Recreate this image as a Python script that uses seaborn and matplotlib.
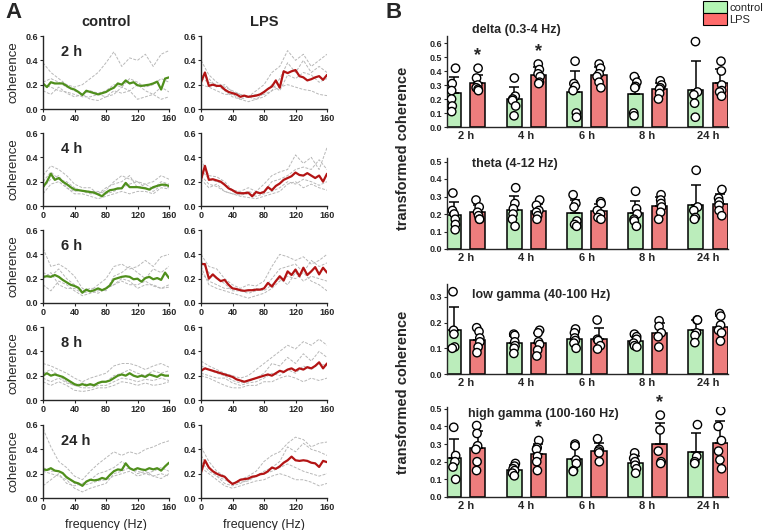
import numpy as np
import pandas as pd
import matplotlib
matplotlib.use("Agg")
import matplotlib.pyplot as plt
import seaborn as sns
from matplotlib.patches import Patch

# ---------------- Panel A: coherence spectra ----------------
freq_mean = np.arange(0, 161, 5)
freq_trace = np.arange(0, 161, 10)
hours = ["2 h", "4 h", "6 h", "8 h", "24 h"]

ctrl_mean_2h = [0.21, 0.18, 0.22, 0.21, 0.21, 0.21, 0.19, 0.17, 0.16, 0.14, 0.115, 0.15, 0.14, 0.13, 0.12, 0.13, 0.14,
                0.16, 0.175, 0.21, 0.20, 0.235, 0.21, 0.22, 0.195, 0.19, 0.195, 0.20, 0.21, 0.225, 0.16, 0.25, 0.26]
ctrl_mean_4h = [0.155, 0.20, 0.265, 0.215, 0.23, 0.20, 0.18, 0.155, 0.135, 0.13, 0.125, 0.12, 0.115, 0.11, 0.095, 0.08,
                0.11, 0.13, 0.135, 0.145, 0.145, 0.19, 0.155, 0.155, 0.155, 0.15, 0.145, 0.135, 0.155, 0.165, 0.175,
                0.175, 0.165]
ctrl_mean_6h = [0.215, 0.22, 0.215, 0.23, 0.215, 0.19, 0.17, 0.15, 0.14, 0.125, 0.085, 0.11, 0.095, 0.105, 0.12, 0.105,
                0.12, 0.145, 0.195, 0.205, 0.215, 0.22, 0.215, 0.195, 0.20, 0.175, 0.205, 0.215, 0.195, 0.205, 0.19,
                0.25, 0.205]
ctrl_mean_8h = [0.20, 0.22, 0.20, 0.21, 0.20, 0.19, 0.17, 0.15, 0.13, 0.12, 0.13, 0.12, 0.13, 0.12, 0.14, 0.15, 0.15,
                0.16, 0.18, 0.20, 0.21, 0.20, 0.22, 0.20, 0.19, 0.20, 0.19, 0.21, 0.20, 0.19, 0.21, 0.20, 0.20]
ctrl_mean_24h = [0.235, 0.23, 0.245, 0.225, 0.22, 0.205, 0.17, 0.15, 0.13, 0.12, 0.10, 0.135, 0.15, 0.145, 0.15, 0.165,
                 0.155, 0.19, 0.22, 0.235, 0.23, 0.285, 0.245, 0.23, 0.245, 0.235, 0.23, 0.245, 0.235, 0.245, 0.225,
                 0.26, 0.29]

lps_mean_2h = [0.22, 0.30, 0.19, 0.20, 0.19, 0.19, 0.16, 0.14, 0.13, 0.12, 0.10, 0.11, 0.10, 0.105, 0.11, 0.12, 0.14,
               0.165, 0.185, 0.235, 0.175, 0.31, 0.295, 0.31, 0.32, 0.27, 0.26, 0.235, 0.245, 0.26, 0.27, 0.24, 0.28]
lps_mean_4h = [0.215, 0.33, 0.215, 0.22, 0.21, 0.20, 0.175, 0.145, 0.13, 0.11, 0.105, 0.105, 0.11, 0.08, 0.115, 0.105,
               0.115, 0.155, 0.13, 0.165, 0.185, 0.215, 0.23, 0.245, 0.275, 0.255, 0.25, 0.27, 0.25, 0.23, 0.25, 0.20,
               0.265]
lps_mean_6h = [0.32, 0.32, 0.20, 0.235, 0.205, 0.18, 0.19, 0.15, 0.12, 0.115, 0.105, 0.10, 0.105, 0.105, 0.11, 0.11,
               0.12, 0.165, 0.135, 0.18, 0.22, 0.185, 0.26, 0.23, 0.275, 0.22, 0.29, 0.23, 0.26, 0.295, 0.235, 0.29,
               0.25]
lps_mean_8h = [0.24, 0.26, 0.25, 0.24, 0.23, 0.22, 0.21, 0.20, 0.19, 0.17, 0.16, 0.15, 0.16, 0.17, 0.18, 0.19, 0.20,
               0.21, 0.20, 0.22, 0.24, 0.23, 0.25, 0.26, 0.24, 0.26, 0.25, 0.27, 0.26, 0.28, 0.31, 0.26, 0.30]
lps_mean_24h = [0.21, 0.31, 0.25, 0.22, 0.20, 0.185, 0.175, 0.14, 0.115, 0.13, 0.15, 0.155, 0.16, 0.175, 0.18, 0.195,
                0.20, 0.22, 0.25, 0.24, 0.26, 0.29, 0.31, 0.34, 0.31, 0.305, 0.31, 0.305, 0.29, 0.285, 0.255, 0.305,
                0.295]

# individual animals (grey traces), sampled every 10 Hz
ctrl_traces_2h = [
    [0.38, 0.30, 0.25, 0.20, 0.18, 0.20, 0.25, 0.30, 0.38, 0.47, 0.35, 0.42, 0.40, 0.45, 0.35, 0.45, 0.48],
    [0.15, 0.12, 0.18, 0.13, 0.10, 0.12, 0.08, 0.07, 0.10, 0.15, 0.13, 0.15, 0.08, 0.10, 0.12, 0.08, 0.10],
    [0.22, 0.25, 0.22, 0.18, 0.15, 0.12, 0.15, 0.13, 0.15, 0.20, 0.18, 0.25, 0.22, 0.18, 0.20, 0.25, 0.22],
    [0.20, 0.18, 0.15, 0.14, 0.12, 0.10, 0.10, 0.12, 0.10, 0.12, 0.18, 0.15, 0.20, 0.15, 0.12, 0.18, 0.14]]
ctrl_traces_4h = [
    [0.25, 0.33, 0.30, 0.25, 0.18, 0.15, 0.15, 0.10, 0.13, 0.20, 0.25, 0.22, 0.20, 0.18, 0.20, 0.25, 0.22],
    [0.10, 0.18, 0.20, 0.15, 0.10, 0.10, 0.08, 0.06, 0.08, 0.10, 0.12, 0.10, 0.12, 0.12, 0.10, 0.15, 0.14],
    [0.20, 0.28, 0.22, 0.20, 0.15, 0.12, 0.10, 0.10, 0.15, 0.18, 0.20, 0.25, 0.15, 0.18, 0.14, 0.20, 0.18],
    [0.15, 0.22, 0.25, 0.15, 0.12, 0.13, 0.12, 0.12, 0.10, 0.12, 0.15, 0.18, 0.20, 0.15, 0.12, 0.17, 0.15]]
ctrl_traces_6h = [
    [0.45, 0.30, 0.32, 0.28, 0.22, 0.12, 0.10, 0.15, 0.20, 0.30, 0.32, 0.28, 0.30, 0.35, 0.30, 0.38, 0.40],
    [0.15, 0.10, 0.18, 0.15, 0.10, 0.06, 0.08, 0.10, 0.12, 0.15, 0.18, 0.15, 0.15, 0.18, 0.14, 0.12, 0.13],
    [0.25, 0.22, 0.28, 0.20, 0.15, 0.10, 0.12, 0.12, 0.10, 0.22, 0.25, 0.30, 0.25, 0.20, 0.28, 0.25, 0.30],
    [0.20, 0.25, 0.15, 0.12, 0.12, 0.08, 0.10, 0.08, 0.12, 0.15, 0.20, 0.18, 0.12, 0.15, 0.15, 0.12, 0.15]]
ctrl_traces_8h = [
    [0.30, 0.28, 0.25, 0.22, 0.18, 0.15, 0.18, 0.20, 0.22, 0.28, 0.30, 0.30, 0.28, 0.25, 0.28, 0.30, 0.27],
    [0.15, 0.12, 0.15, 0.12, 0.08, 0.07, 0.08, 0.10, 0.10, 0.12, 0.15, 0.14, 0.12, 0.14, 0.12, 0.13, 0.15],
    [0.22, 0.25, 0.20, 0.15, 0.12, 0.14, 0.12, 0.14, 0.15, 0.20, 0.22, 0.25, 0.22, 0.20, 0.24, 0.22, 0.24],
    [0.18, 0.15, 0.18, 0.14, 0.12, 0.10, 0.10, 0.12, 0.12, 0.15, 0.18, 0.17, 0.15, 0.17, 0.16, 0.18, 0.16]]
ctrl_traces_24h = [
    [0.57, 0.42, 0.30, 0.25, 0.18, 0.15, 0.22, 0.28, 0.33, 0.38, 0.35, 0.38, 0.36, 0.40, 0.42, 0.45, 0.47],
    [0.22, 0.20, 0.18, 0.15, 0.08, 0.05, 0.08, 0.10, 0.12, 0.20, 0.22, 0.25, 0.20, 0.22, 0.18, 0.20, 0.18],
    [0.10, 0.15, 0.20, 0.12, 0.10, 0.12, 0.15, 0.20, 0.22, 0.25, 0.30, 0.25, 0.22, 0.20, 0.22, 0.25, 0.22],
    [0.25, 0.22, 0.22, 0.18, 0.12, 0.10, 0.12, 0.14, 0.15, 0.18, 0.20, 0.22, 0.18, 0.20, 0.18, 0.16, 0.20]]

lps_traces_2h = [
    [0.40, 0.28, 0.22, 0.18, 0.15, 0.12, 0.10, 0.15, 0.20, 0.30, 0.35, 0.48, 0.40, 0.45, 0.35, 0.40, 0.45],
    [0.25, 0.22, 0.20, 0.15, 0.10, 0.08, 0.06, 0.08, 0.10, 0.15, 0.25, 0.38, 0.30, 0.40, 0.30, 0.35, 0.30],
    [0.20, 0.18, 0.15, 0.12, 0.12, 0.08, 0.10, 0.12, 0.12, 0.15, 0.18, 0.20, 0.18, 0.16, 0.15, 0.12, 0.11],
    [0.28, 0.25, 0.18, 0.20, 0.14, 0.12, 0.10, 0.08, 0.13, 0.20, 0.15, 0.28, 0.25, 0.30, 0.28, 0.22, 0.25]]
lps_traces_4h = [
    [0.38, 0.25, 0.24, 0.20, 0.13, 0.12, 0.15, 0.12, 0.18, 0.25, 0.28, 0.30, 0.42, 0.35, 0.40, 0.30, 0.48],
    [0.25, 0.18, 0.16, 0.12, 0.10, 0.08, 0.07, 0.06, 0.08, 0.10, 0.12, 0.18, 0.20, 0.15, 0.18, 0.15, 0.13],
    [0.30, 0.22, 0.20, 0.18, 0.12, 0.10, 0.12, 0.10, 0.12, 0.20, 0.22, 0.25, 0.30, 0.32, 0.30, 0.38, 0.30],
    [0.22, 0.15, 0.18, 0.12, 0.10, 0.09, 0.10, 0.08, 0.10, 0.12, 0.15, 0.20, 0.18, 0.22, 0.20, 0.17, 0.20]]
lps_traces_6h = [
    [0.40, 0.30, 0.28, 0.20, 0.15, 0.12, 0.15, 0.14, 0.18, 0.30, 0.40, 0.38, 0.35, 0.38, 0.32, 0.35, 0.40],
    [0.30, 0.15, 0.12, 0.10, 0.08, 0.06, 0.04, 0.06, 0.08, 0.12, 0.18, 0.22, 0.20, 0.25, 0.18, 0.15, 0.10],
    [0.35, 0.25, 0.20, 0.16, 0.10, 0.10, 0.08, 0.10, 0.12, 0.20, 0.28, 0.30, 0.32, 0.25, 0.35, 0.30, 0.33],
    [0.25, 0.18, 0.15, 0.12, 0.12, 0.10, 0.10, 0.12, 0.10, 0.15, 0.20, 0.15, 0.25, 0.18, 0.22, 0.20, 0.18]]
lps_traces_8h = [
    [0.32, 0.28, 0.25, 0.22, 0.20, 0.18, 0.20, 0.25, 0.30, 0.35, 0.40, 0.45, 0.42, 0.48, 0.45, 0.50, 0.45],
    [0.20, 0.18, 0.15, 0.12, 0.10, 0.10, 0.12, 0.12, 0.15, 0.15, 0.18, 0.20, 0.18, 0.15, 0.18, 0.16, 0.18],
    [0.28, 0.25, 0.22, 0.20, 0.16, 0.14, 0.15, 0.18, 0.22, 0.30, 0.28, 0.35, 0.30, 0.38, 0.32, 0.40, 0.35],
    [0.22, 0.20, 0.18, 0.18, 0.14, 0.12, 0.14, 0.15, 0.18, 0.22, 0.20, 0.25, 0.22, 0.28, 0.25, 0.30, 0.28]]
lps_traces_24h = [
    [0.42, 0.30, 0.22, 0.18, 0.12, 0.15, 0.18, 0.22, 0.30, 0.35, 0.38, 0.45, 0.50, 0.48, 0.42, 0.45, 0.46],
    [0.35, 0.25, 0.18, 0.12, 0.10, 0.12, 0.15, 0.18, 0.22, 0.25, 0.30, 0.42, 0.38, 0.45, 0.40, 0.38, 0.35],
    [0.25, 0.20, 0.15, 0.10, 0.08, 0.10, 0.12, 0.14, 0.15, 0.18, 0.20, 0.18, 0.15, 0.15, 0.13, 0.10, 0.12],
    [0.30, 0.22, 0.18, 0.15, 0.12, 0.13, 0.14, 0.18, 0.20, 0.22, 0.25, 0.28, 0.25, 0.22, 0.20, 0.18, 0.20]]

# ---------------- Panel B: band-wise transformed coherence ----------------
groups = ["control", "LPS"]
bands = ["delta (0.3-4 Hz)", "theta (4-12 Hz)", "low gamma (40-100 Hz)", "high gamma (100-160 Hz)"]

delta_ctrl = [[0.42, 0.31, 0.26, 0.20, 0.15, 0.11], [0.35, 0.22, 0.20, 0.19, 0.15, 0.08],
              [0.47, 0.31, 0.29, 0.26, 0.10, 0.07], [0.36, 0.32, 0.29, 0.28, 0.10, 0.08],
              [0.61, 0.25, 0.23, 0.17, 0.07]]
delta_lps = [[0.42, 0.35, 0.30, 0.28, 0.27, 0.26], [0.45, 0.41, 0.38, 0.36, 0.32, 0.31],
             [0.45, 0.42, 0.38, 0.36, 0.32, 0.28], [0.33, 0.30, 0.28, 0.27, 0.24, 0.20],
             [0.47, 0.40, 0.30, 0.26, 0.25, 0.22]]
theta_ctrl = [[0.32, 0.22, 0.20, 0.17, 0.14, 0.11], [0.35, 0.26, 0.23, 0.20, 0.17, 0.13],
              [0.31, 0.26, 0.24, 0.16, 0.14, 0.13], [0.33, 0.23, 0.20, 0.17, 0.16, 0.13],
              [0.45, 0.24, 0.22, 0.18, 0.17]]
theta_lps = [[0.28, 0.24, 0.21, 0.19, 0.17, 0.17], [0.28, 0.25, 0.22, 0.21, 0.19, 0.17],
             [0.27, 0.26, 0.22, 0.20, 0.18, 0.17], [0.31, 0.28, 0.26, 0.24, 0.21, 0.17],
             [0.34, 0.29, 0.27, 0.25, 0.22, 0.19]]
lowg_ctrl = [[0.32, 0.17, 0.155, 0.105, 0.10], [0.155, 0.15, 0.125, 0.11, 0.10, 0.08],
             [0.175, 0.16, 0.14, 0.13, 0.12, 0.10], [0.155, 0.145, 0.135, 0.12, 0.11, 0.105],
             [0.21, 0.21, 0.16, 0.15, 0.122]]
lowg_lps = [[0.18, 0.165, 0.14, 0.125, 0.105, 0.083], [0.17, 0.16, 0.125, 0.115, 0.093, 0.07],
            [0.21, 0.135, 0.13, 0.11, 0.097], [0.207, 0.185, 0.16, 0.145, 0.105],
            [0.235, 0.225, 0.19, 0.17, 0.16, 0.128]]
highg_ctrl = [[0.395, 0.235, 0.20, 0.17, 0.10], [0.19, 0.175, 0.16, 0.15, 0.135, 0.12],
              [0.30, 0.29, 0.21, 0.19, 0.15, 0.145], [0.25, 0.22, 0.20, 0.18, 0.16, 0.135],
              [0.41, 0.23, 0.20, 0.19]]
highg_lps = [[0.405, 0.36, 0.29, 0.27, 0.20, 0.15], [0.32, 0.28, 0.27, 0.23, 0.20, 0.15],
             [0.33, 0.27, 0.26, 0.25, 0.20], [0.464, 0.38, 0.26, 0.20, 0.19],
             [0.49, 0.40, 0.32, 0.26, 0.21, 0.16]]

# significant LPS vs control (band index, hour)
stars = [(0, "2 h"), (0, "4 h"), (3, "4 h"), (3, "8 h")]

ctrl_color = "#b3f5b3"
lps_color = "#ff6b6b"
ctrl_line = "#4f8f1c"
lps_line = "#b31414"

sns.set_style("ticks")
plt.rcParams["font.family"] = ["Liberation Sans", "DejaVu Sans"]
plt.rcParams["axes.linewidth"] = 1.0

W, H = 764, 530
fig = plt.figure(figsize=(W / 100, H / 100), dpi=100)


def px_axes(left, top, width, height):
  return fig.add_axes([left / W, 1 - (top + height) / H, width / W, height / H])


# ---- Panel A ----
ctrl_means = [ctrl_mean_2h, ctrl_mean_4h, ctrl_mean_6h, ctrl_mean_8h, ctrl_mean_24h]
lps_means = [lps_mean_2h, lps_mean_4h, lps_mean_6h, lps_mean_8h, lps_mean_24h]
ctrl_traces = [ctrl_traces_2h, ctrl_traces_4h, ctrl_traces_6h, ctrl_traces_8h, ctrl_traces_24h]
lps_traces = [lps_traces_2h, lps_traces_4h, lps_traces_6h, lps_traces_8h, lps_traces_24h]
row_tops = [36, 133, 230, 327, 425]

for i, hour in enumerate(hours):
  for col, (means, traces, lc, left) in enumerate([(ctrl_means, ctrl_traces, ctrl_line, 43),
                                                    (lps_means, lps_traces, lps_line, 201)]):
    ax = px_axes(left, row_tops[i], 126, 73)
    for tr in traces[i]:
      sns.lineplot(x=freq_trace, y=tr, ax=ax, color="#b8b8b8", lw=0.7,
                   linestyle=(0, (3, 1.5)))
    sns.lineplot(x=freq_mean, y=means[i], ax=ax, color=lc, lw=1.6)
    ax.set_xlim(0, 160)
    ax.set_ylim(0, 0.6)
    ax.set_xticks([0, 40, 80, 120, 160])
    ax.set_yticks([0.0, 0.2, 0.4, 0.6])
    ax.set_yticklabels(["0.0", "0.2", "0.4", "0.6"])
    ax.tick_params(labelsize=6.5, length=2.5, width=0.8, pad=1)
    for lab in ax.get_xticklabels() + ax.get_yticklabels():
      lab.set_fontweight("bold")
    sns.despine(ax=ax)
    if col == 0:
      ax.set_ylabel("coherence", fontsize=9.5, labelpad=4)
      ax.text(0.14, 0.78, hour, transform=ax.transAxes, fontsize=10.5,
              fontweight="bold", va="center")
    if i == 0:
      ax.set_title(["control", "LPS"][col], fontsize=10.5, fontweight="bold", pad=7)
    if i == len(hours) - 1:
      ax.set_xlabel("frequency (Hz)", fontsize=9, labelpad=5)

# ---- Panel B ----
band_ctrl = [delta_ctrl, theta_ctrl, lowg_ctrl, highg_ctrl]
band_lps = [delta_lps, theta_lps, lowg_lps, highg_lps]
band_tops = [36, 158, 284, 407]
band_heights = [91, 91, 90, 90]
band_ylim = [0.65, 0.52, 0.35, 0.51]
band_ticks = [np.arange(0, 0.61, 0.1), np.arange(0, 0.51, 0.1), np.arange(0, 0.31, 0.1), np.arange(0, 0.51, 0.1)]
title_y = [1.07, 0.93, 0.88, 0.92]
title_x = [0.09, 0.09, 0.09, 0.075]
palette = {"control": ctrl_color, "LPS": lps_color}

for b in range(4):
  rows = []
  for h, hour in enumerate(hours):
    for v in band_ctrl[b][h]:
      rows.append((hour, "control", v))
    for v in band_lps[b][h]:
      rows.append((hour, "LPS", v))
  df = pd.DataFrame(rows, columns=["time", "group", "value"])

  ax = px_axes(447, band_tops[b], 281, band_heights[b])
  sns.barplot(data=df, x="time", y="value", hue="group", order=hours, hue_order=groups,
              palette=palette, errorbar=None, width=0.8, gap=0.375, edgecolor="black",
              linewidth=1.1, legend=False, ax=ax, zorder=2)

  stats = df.groupby(["time", "group"])["value"].agg(["mean", "std", "max"])
  for g, off in zip(groups, [-0.2, 0.2]):
    xs = np.arange(len(hours)) + off
    m = stats.xs(g, level="group").loc[hours]
    ax.errorbar(xs, m["mean"], yerr=[np.zeros(len(hours)), m["std"]], fmt="none",
                ecolor="black", elinewidth=1.1, capsize=3.5, capthick=1.1, zorder=3)

  sns.stripplot(data=df, x="time", y="value", hue="group", order=hours, hue_order=groups,
                dodge=True, jitter=0.07, palette={"control": "white", "LPS": "white"},
                edgecolor="black", linewidth=1.0, size=6, legend=False, ax=ax, zorder=4)

  for sb, hour in stars:
    if sb == b:
      top = stats.loc[(hour, "LPS"), "max"]
      ax.annotate("*", (hours.index(hour) + 0.2, top), xytext=(0, 3), textcoords="offset points",
                  ha="center", va="bottom", fontsize=13, fontweight="bold", annotation_clip=False)

  ax.set_xlim(-0.31, 4.33)
  ax.set_ylim(0, band_ylim[b])
  ax.set_yticks(band_ticks[b])
  ax.set_yticklabels([f"{t:.1f}" for t in band_ticks[b]])
  ax.set_xlabel("")
  ax.set_ylabel("")
  ax.tick_params(axis="y", labelsize=6.5, length=2.5, width=0.8, pad=1)
  ax.tick_params(axis="x", labelsize=8, length=0, pad=3)
  for lab in ax.get_xticklabels() + ax.get_yticklabels():
    lab.set_fontweight("bold")
  sns.despine(ax=ax)
  ax.text(title_x[b], title_y[b], bands[b], transform=ax.transAxes, fontsize=9,
          fontweight="bold", va="center", ha="left")

fig.text(403 / W, 1 - 148 / H, "transformed coherence", rotation=90, fontsize=10.5,
         fontweight="bold", ha="center", va="center")
fig.text(403 / W, 1 - 392 / H, "transformed coherence", rotation=90, fontsize=10.5,
         fontweight="bold", ha="center", va="center")

fig.legend(handles=[Patch(facecolor=ctrl_color, edgecolor="black", linewidth=0.8),
                    Patch(facecolor=lps_color, edgecolor="black", linewidth=0.8)],
           labels=groups, loc="upper right", bbox_to_anchor=(763 / W, 1 - 1 / H), frameon=False,
           fontsize=8, handlelength=2.2, handleheight=1.25, handletextpad=0.2,
           labelspacing=0.05, borderpad=0, borderaxespad=0)

fig.text(5 / W, 1 - 12 / H, "A", fontsize=16, fontweight="bold", va="center")
fig.text(386 / W, 1 - 12 / H, "B", fontsize=16, fontweight="bold", va="center")

fig.savefig("out.png", dpi=100)
